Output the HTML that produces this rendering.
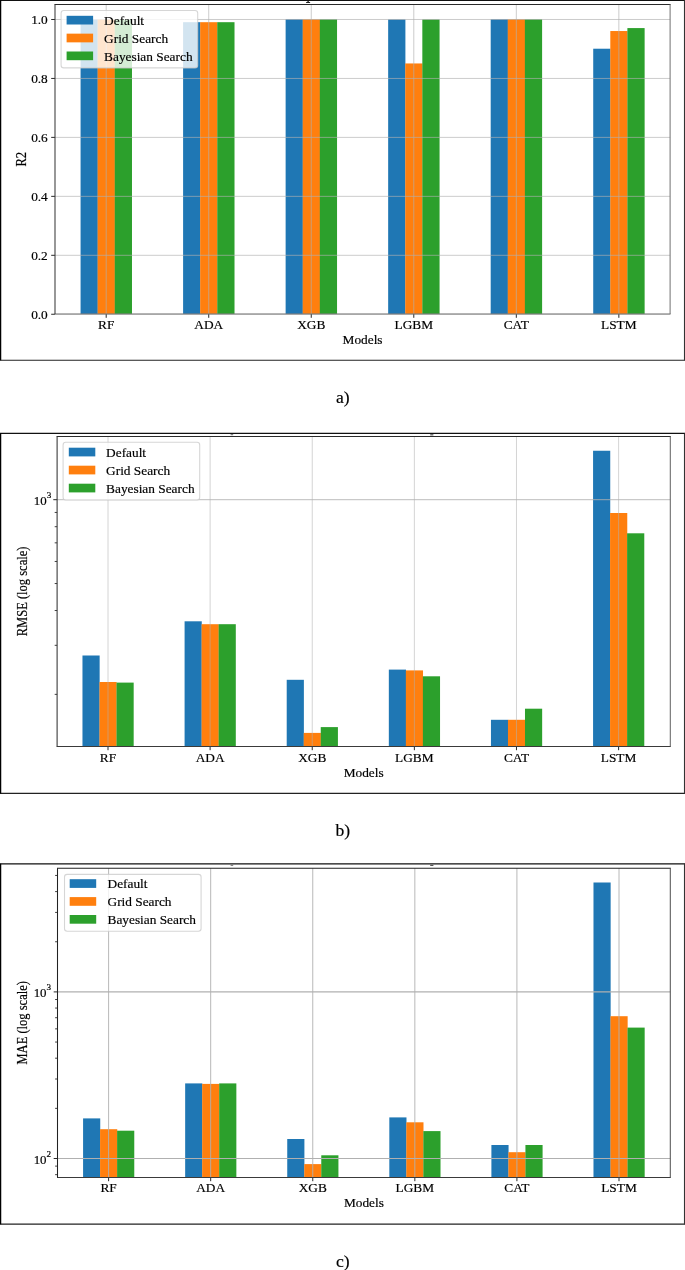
<!DOCTYPE html>
<html><head><meta charset="utf-8"><title>Figure</title>
<style>
html,body{margin:0;padding:0;background:#fff;}
body{width:685px;height:1270px;overflow:hidden;font-family:"Liberation Serif",serif;}
svg{display:block;will-change:transform;}
svg text{font-family:"Liberation Serif",serif;fill:#000;stroke:#000;stroke-width:0.18px;}
</style></head><body>
<svg width="685" height="1270" viewBox="0 0 685 1270">
<rect x="0" y="0" width="685" height="1270" fill="#fff"/>
<rect x="80.57" y="19.24" width="17.24" height="294.76" fill="#1f77b4"/>
<rect x="97.66" y="19.24" width="17.24" height="294.76" fill="#ff7f0e"/>
<rect x="114.74" y="19.24" width="17.24" height="294.76" fill="#2ca02c"/>
<rect x="183.1" y="22.19" width="17.24" height="291.81" fill="#1f77b4"/>
<rect x="200.19" y="22.19" width="17.24" height="291.81" fill="#ff7f0e"/>
<rect x="217.27" y="22.19" width="17.24" height="291.81" fill="#2ca02c"/>
<rect x="285.63" y="19.24" width="17.24" height="294.76" fill="#1f77b4"/>
<rect x="302.72" y="19.24" width="17.24" height="294.76" fill="#ff7f0e"/>
<rect x="319.8" y="19.24" width="17.24" height="294.76" fill="#2ca02c"/>
<rect x="388.16" y="19.39" width="17.24" height="294.61" fill="#1f77b4"/>
<rect x="405.25" y="63.45" width="17.24" height="250.55" fill="#ff7f0e"/>
<rect x="422.33" y="19.39" width="17.24" height="294.61" fill="#2ca02c"/>
<rect x="490.69" y="19.24" width="17.24" height="294.76" fill="#1f77b4"/>
<rect x="507.78" y="19.24" width="17.24" height="294.76" fill="#ff7f0e"/>
<rect x="524.86" y="19.24" width="17.24" height="294.76" fill="#2ca02c"/>
<rect x="593.22" y="48.72" width="17.24" height="265.28" fill="#1f77b4"/>
<rect x="610.31" y="31.03" width="17.24" height="282.97" fill="#ff7f0e"/>
<rect x="627.39" y="28.08" width="17.24" height="285.92" fill="#2ca02c"/>
<line x1="106.2" y1="4.5" x2="106.2" y2="314" stroke="#b0b0b0" stroke-width="0.65"/>
<line x1="208.73" y1="4.5" x2="208.73" y2="314" stroke="#b0b0b0" stroke-width="0.65"/>
<line x1="311.26" y1="4.5" x2="311.26" y2="314" stroke="#b0b0b0" stroke-width="0.65"/>
<line x1="413.79" y1="4.5" x2="413.79" y2="314" stroke="#b0b0b0" stroke-width="0.65"/>
<line x1="516.32" y1="4.5" x2="516.32" y2="314" stroke="#b0b0b0" stroke-width="0.65"/>
<line x1="618.85" y1="4.5" x2="618.85" y2="314" stroke="#b0b0b0" stroke-width="0.65"/>
<line x1="55" y1="314.25" x2="670.1" y2="314.25" stroke="#b0b0b0" stroke-width="0.65"/>
<line x1="55" y1="255.3" x2="670.1" y2="255.3" stroke="#b0b0b0" stroke-width="0.65"/>
<line x1="55" y1="196.35" x2="670.1" y2="196.35" stroke="#b0b0b0" stroke-width="0.65"/>
<line x1="55" y1="137.39" x2="670.1" y2="137.39" stroke="#b0b0b0" stroke-width="0.65"/>
<line x1="55" y1="78.44" x2="670.1" y2="78.44" stroke="#b0b0b0" stroke-width="0.65"/>
<line x1="55" y1="19.49" x2="670.1" y2="19.49" stroke="#b0b0b0" stroke-width="0.65"/>
<line x1="106.2" y1="314" x2="106.2" y2="317.8" stroke="#111" stroke-width="0.9"/>
<line x1="208.73" y1="314" x2="208.73" y2="317.8" stroke="#111" stroke-width="0.9"/>
<line x1="311.26" y1="314" x2="311.26" y2="317.8" stroke="#111" stroke-width="0.9"/>
<line x1="413.79" y1="314" x2="413.79" y2="317.8" stroke="#111" stroke-width="0.9"/>
<line x1="516.32" y1="314" x2="516.32" y2="317.8" stroke="#111" stroke-width="0.9"/>
<line x1="618.85" y1="314" x2="618.85" y2="317.8" stroke="#111" stroke-width="0.9"/>
<line x1="51.2" y1="314.25" x2="55" y2="314.25" stroke="#111" stroke-width="0.9"/>
<line x1="51.2" y1="255.3" x2="55" y2="255.3" stroke="#111" stroke-width="0.9"/>
<line x1="51.2" y1="196.35" x2="55" y2="196.35" stroke="#111" stroke-width="0.9"/>
<line x1="51.2" y1="137.39" x2="55" y2="137.39" stroke="#111" stroke-width="0.9"/>
<line x1="51.2" y1="78.44" x2="55" y2="78.44" stroke="#111" stroke-width="0.9"/>
<line x1="51.2" y1="19.49" x2="55" y2="19.49" stroke="#111" stroke-width="0.9"/>
<line x1="54.5" y1="4.5" x2="670.6" y2="4.5" stroke="#2a2a2a" stroke-width="1.05"/>
<line x1="54.5" y1="314" x2="670.6" y2="314" stroke="#777" stroke-width="1.05"/>
<line x1="55" y1="4.5" x2="55" y2="314" stroke="#3a3a3a" stroke-width="1.05"/>
<line x1="670.1" y1="4.5" x2="670.1" y2="314" stroke="#777" stroke-width="1.05"/>
<text x="47.8" y="318.75" text-anchor="end" font-size="13.33">0.0</text>
<text x="47.8" y="259.8" text-anchor="end" font-size="13.33">0.2</text>
<text x="47.8" y="200.85" text-anchor="end" font-size="13.33">0.4</text>
<text x="47.8" y="141.89" text-anchor="end" font-size="13.33">0.6</text>
<text x="47.8" y="82.94" text-anchor="end" font-size="13.33">0.8</text>
<text x="47.8" y="23.99" text-anchor="end" font-size="13.33">1.0</text>
<text x="106.2" y="329.2" text-anchor="middle" font-size="13.33">RF</text>
<text x="208.73" y="329.2" text-anchor="middle" font-size="13.33">ADA</text>
<text x="311.26" y="329.2" text-anchor="middle" font-size="13.33">XGB</text>
<text x="413.79" y="329.2" text-anchor="middle" font-size="13.33">LGBM</text>
<text x="516.32" y="329.2" text-anchor="middle" font-size="13.33">CAT</text>
<text x="618.85" y="329.2" text-anchor="middle" font-size="13.33">LSTM</text>
<text x="362.55" y="343.8" text-anchor="middle" font-size="13.33">Models</text>
<text transform="translate(26,159.25) scale(1.08,0.94) rotate(-90)" text-anchor="middle" font-size="13.33">R2</text>
<rect x="61.1" y="10.5" width="136.6" height="57.4" rx="2.7" ry="2.7" fill="#fff" fill-opacity="0.8" stroke="#ccc" stroke-opacity="0.8" stroke-width="1.07"/>
<rect x="66.6" y="15.8" width="26.5" height="8.7" fill="#1f77b4"/>
<text x="104.1" y="24.8" font-size="13.33">Default</text>
<rect x="66.6" y="33.65" width="26.5" height="8.7" fill="#ff7f0e"/>
<text x="104.1" y="42.65" font-size="13.33">Grid Search</text>
<rect x="66.6" y="51.5" width="26.5" height="8.7" fill="#2ca02c"/>
<text x="104.1" y="60.5" font-size="13.33">Bayesian Search</text>
<line x1="0" y1="0.3" x2="685" y2="0.3" stroke="#111" stroke-width="1.2"/>
<line x1="0" y1="360.25" x2="685" y2="360.25" stroke="#222" stroke-width="1.2"/>
<line x1="0.6" y1="0.3" x2="0.6" y2="360.25" stroke="#000" stroke-width="1.3"/>
<line x1="684.5" y1="0.3" x2="684.5" y2="360.25" stroke="#333" stroke-width="1.1"/>
<rect x="82.47" y="655.5" width="17.17" height="90.9" fill="#1f77b4"/>
<rect x="99.49" y="682" width="17.17" height="64.4" fill="#ff7f0e"/>
<rect x="116.51" y="682.6" width="17.17" height="63.8" fill="#2ca02c"/>
<rect x="184.59" y="621.3" width="17.17" height="125.1" fill="#1f77b4"/>
<rect x="201.61" y="624.2" width="17.17" height="122.2" fill="#ff7f0e"/>
<rect x="218.63" y="624.2" width="17.17" height="122.2" fill="#2ca02c"/>
<rect x="286.71" y="679.8" width="17.17" height="66.6" fill="#1f77b4"/>
<rect x="303.73" y="732.9" width="17.17" height="13.5" fill="#ff7f0e"/>
<rect x="320.75" y="727.1" width="17.17" height="19.3" fill="#2ca02c"/>
<rect x="388.83" y="669.6" width="17.17" height="76.8" fill="#1f77b4"/>
<rect x="405.85" y="670.4" width="17.17" height="76" fill="#ff7f0e"/>
<rect x="422.87" y="676.3" width="17.17" height="70.1" fill="#2ca02c"/>
<rect x="490.95" y="719.8" width="17.17" height="26.6" fill="#1f77b4"/>
<rect x="507.97" y="719.8" width="17.17" height="26.6" fill="#ff7f0e"/>
<rect x="524.99" y="708.7" width="17.17" height="37.7" fill="#2ca02c"/>
<rect x="593.07" y="450.75" width="17.17" height="295.65" fill="#1f77b4"/>
<rect x="610.09" y="513" width="17.17" height="233.4" fill="#ff7f0e"/>
<rect x="627.11" y="533.3" width="17.17" height="213.1" fill="#2ca02c"/>
<line x1="108" y1="436.5" x2="108" y2="746.4" stroke="#b0b0b0" stroke-width="0.55"/>
<line x1="210.12" y1="436.5" x2="210.12" y2="746.4" stroke="#b0b0b0" stroke-width="0.55"/>
<line x1="312.24" y1="436.5" x2="312.24" y2="746.4" stroke="#b0b0b0" stroke-width="0.55"/>
<line x1="414.36" y1="436.5" x2="414.36" y2="746.4" stroke="#b0b0b0" stroke-width="0.55"/>
<line x1="516.48" y1="436.5" x2="516.48" y2="746.4" stroke="#b0b0b0" stroke-width="0.55"/>
<line x1="618.6" y1="436.5" x2="618.6" y2="746.4" stroke="#b0b0b0" stroke-width="0.55"/>
<line x1="57.1" y1="499.7" x2="670.3" y2="499.7" stroke="#b0b0b0" stroke-width="0.85"/>
<line x1="108" y1="746.4" x2="108" y2="750.2" stroke="#111" stroke-width="0.9"/>
<line x1="210.12" y1="746.4" x2="210.12" y2="750.2" stroke="#111" stroke-width="0.9"/>
<line x1="312.24" y1="746.4" x2="312.24" y2="750.2" stroke="#111" stroke-width="0.9"/>
<line x1="414.36" y1="746.4" x2="414.36" y2="750.2" stroke="#111" stroke-width="0.9"/>
<line x1="516.48" y1="746.4" x2="516.48" y2="750.2" stroke="#111" stroke-width="0.9"/>
<line x1="618.6" y1="746.4" x2="618.6" y2="750.2" stroke="#111" stroke-width="0.9"/>
<line x1="53.3" y1="499.7" x2="57.1" y2="499.7" stroke="#111" stroke-width="0.9"/>
<line x1="54.7" y1="694.36" x2="57.1" y2="694.36" stroke="#111" stroke-width="0.8"/>
<line x1="54.7" y1="645.32" x2="57.1" y2="645.32" stroke="#111" stroke-width="0.8"/>
<line x1="54.7" y1="610.53" x2="57.1" y2="610.53" stroke="#111" stroke-width="0.8"/>
<line x1="54.7" y1="583.54" x2="57.1" y2="583.54" stroke="#111" stroke-width="0.8"/>
<line x1="54.7" y1="561.48" x2="57.1" y2="561.48" stroke="#111" stroke-width="0.8"/>
<line x1="54.7" y1="542.84" x2="57.1" y2="542.84" stroke="#111" stroke-width="0.8"/>
<line x1="54.7" y1="526.69" x2="57.1" y2="526.69" stroke="#111" stroke-width="0.8"/>
<line x1="54.7" y1="512.44" x2="57.1" y2="512.44" stroke="#111" stroke-width="0.8"/>
<line x1="56.6" y1="436.5" x2="670.8" y2="436.5" stroke="#2a2a2a" stroke-width="1.05"/>
<line x1="56.6" y1="746.4" x2="670.8" y2="746.4" stroke="#3a3a3a" stroke-width="1.05"/>
<line x1="57.1" y1="436.5" x2="57.1" y2="746.4" stroke="#333" stroke-width="1.05"/>
<line x1="670.3" y1="436.5" x2="670.3" y2="746.4" stroke="#666" stroke-width="1.05"/>
<text x="51.2" y="504.9" text-anchor="end" font-size="12.9">10<tspan font-size="9.1" dy="-6.7" dx="0">3</tspan></text>
<text x="108" y="761.9" text-anchor="middle" font-size="13.33">RF</text>
<text x="210.12" y="761.9" text-anchor="middle" font-size="13.33">ADA</text>
<text x="312.24" y="761.9" text-anchor="middle" font-size="13.33">XGB</text>
<text x="414.36" y="761.9" text-anchor="middle" font-size="13.33">LGBM</text>
<text x="516.48" y="761.9" text-anchor="middle" font-size="13.33">CAT</text>
<text x="618.6" y="761.9" text-anchor="middle" font-size="13.33">LSTM</text>
<text x="363.7" y="776.5" text-anchor="middle" font-size="13.33">Models</text>
<text transform="translate(26.55,591.45) scale(1.08,0.94) rotate(-90)" text-anchor="middle" font-size="13.33">RMSE (log scale)</text>
<rect x="63.1" y="442.2" width="136.6" height="57.8" rx="2.7" ry="2.7" fill="#fff" fill-opacity="0.8" stroke="#ccc" stroke-opacity="0.8" stroke-width="1.07"/>
<rect x="68.8" y="447.7" width="26.5" height="8.7" fill="#1f77b4"/>
<text x="106.1" y="456.7" font-size="13.33">Default</text>
<rect x="68.8" y="465.7" width="26.5" height="8.7" fill="#ff7f0e"/>
<text x="106.1" y="474.7" font-size="13.33">Grid Search</text>
<rect x="68.8" y="483.7" width="26.5" height="8.7" fill="#2ca02c"/>
<text x="106.1" y="492.7" font-size="13.33">Bayesian Search</text>
<line x1="0" y1="433.4" x2="685" y2="433.4" stroke="#111" stroke-width="1.2"/>
<line x1="0" y1="793.4" x2="685" y2="793.4" stroke="#222" stroke-width="1.2"/>
<line x1="0.6" y1="433.4" x2="0.6" y2="793.4" stroke="#000" stroke-width="1.3"/>
<line x1="684.5" y1="433.4" x2="684.5" y2="793.4" stroke="#333" stroke-width="1.1"/>
<rect x="83.08" y="1118.4" width="17.16" height="59" fill="#1f77b4"/>
<rect x="100.09" y="1129.2" width="17.16" height="48.2" fill="#ff7f0e"/>
<rect x="117.11" y="1130.7" width="17.16" height="46.7" fill="#2ca02c"/>
<rect x="185.16" y="1083.4" width="17.16" height="94" fill="#1f77b4"/>
<rect x="202.17" y="1083.9" width="17.16" height="93.5" fill="#ff7f0e"/>
<rect x="219.19" y="1083.4" width="17.16" height="94" fill="#2ca02c"/>
<rect x="287.24" y="1139" width="17.16" height="38.4" fill="#1f77b4"/>
<rect x="304.25" y="1164.1" width="17.16" height="13.3" fill="#ff7f0e"/>
<rect x="321.27" y="1155.3" width="17.16" height="22.1" fill="#2ca02c"/>
<rect x="389.32" y="1117.4" width="17.16" height="60" fill="#1f77b4"/>
<rect x="406.33" y="1122.3" width="17.16" height="55.1" fill="#ff7f0e"/>
<rect x="423.35" y="1131.1" width="17.16" height="46.3" fill="#2ca02c"/>
<rect x="491.4" y="1145" width="17.16" height="32.4" fill="#1f77b4"/>
<rect x="508.41" y="1152.2" width="17.16" height="25.2" fill="#ff7f0e"/>
<rect x="525.43" y="1145" width="17.16" height="32.4" fill="#2ca02c"/>
<rect x="593.48" y="882.5" width="17.16" height="294.9" fill="#1f77b4"/>
<rect x="610.49" y="1016.2" width="17.16" height="161.2" fill="#ff7f0e"/>
<rect x="627.51" y="1027.6" width="17.16" height="149.8" fill="#2ca02c"/>
<line x1="108.6" y1="868.2" x2="108.6" y2="1177.4" stroke="#b0b0b0" stroke-width="0.9"/>
<line x1="210.68" y1="868.2" x2="210.68" y2="1177.4" stroke="#b0b0b0" stroke-width="0.9"/>
<line x1="312.76" y1="868.2" x2="312.76" y2="1177.4" stroke="#b0b0b0" stroke-width="0.9"/>
<line x1="414.84" y1="868.2" x2="414.84" y2="1177.4" stroke="#b0b0b0" stroke-width="0.9"/>
<line x1="516.92" y1="868.2" x2="516.92" y2="1177.4" stroke="#b0b0b0" stroke-width="0.9"/>
<line x1="619" y1="868.2" x2="619" y2="1177.4" stroke="#b0b0b0" stroke-width="0.9"/>
<line x1="57.5" y1="991.9" x2="670.3" y2="991.9" stroke="#b0b0b0" stroke-width="1.2"/>
<line x1="57.5" y1="1158.5" x2="670.3" y2="1158.5" stroke="#b0b0b0" stroke-width="1.2"/>
<line x1="108.6" y1="1177.4" x2="108.6" y2="1181.2" stroke="#111" stroke-width="0.9"/>
<line x1="210.68" y1="1177.4" x2="210.68" y2="1181.2" stroke="#111" stroke-width="0.9"/>
<line x1="312.76" y1="1177.4" x2="312.76" y2="1181.2" stroke="#111" stroke-width="0.9"/>
<line x1="414.84" y1="1177.4" x2="414.84" y2="1181.2" stroke="#111" stroke-width="0.9"/>
<line x1="516.92" y1="1177.4" x2="516.92" y2="1181.2" stroke="#111" stroke-width="0.9"/>
<line x1="619" y1="1177.4" x2="619" y2="1181.2" stroke="#111" stroke-width="0.9"/>
<line x1="53.7" y1="991.9" x2="57.5" y2="991.9" stroke="#111" stroke-width="0.9"/>
<line x1="53.7" y1="1158.5" x2="57.5" y2="1158.5" stroke="#111" stroke-width="0.9"/>
<line x1="55.1" y1="1174.65" x2="57.5" y2="1174.65" stroke="#111" stroke-width="0.8"/>
<line x1="55.1" y1="1166.12" x2="57.5" y2="1166.12" stroke="#111" stroke-width="0.8"/>
<line x1="55.1" y1="1108.35" x2="57.5" y2="1108.35" stroke="#111" stroke-width="0.8"/>
<line x1="55.1" y1="1079.01" x2="57.5" y2="1079.01" stroke="#111" stroke-width="0.8"/>
<line x1="55.1" y1="1058.2" x2="57.5" y2="1058.2" stroke="#111" stroke-width="0.8"/>
<line x1="55.1" y1="1042.05" x2="57.5" y2="1042.05" stroke="#111" stroke-width="0.8"/>
<line x1="55.1" y1="1028.86" x2="57.5" y2="1028.86" stroke="#111" stroke-width="0.8"/>
<line x1="55.1" y1="1017.71" x2="57.5" y2="1017.71" stroke="#111" stroke-width="0.8"/>
<line x1="55.1" y1="1008.05" x2="57.5" y2="1008.05" stroke="#111" stroke-width="0.8"/>
<line x1="55.1" y1="999.52" x2="57.5" y2="999.52" stroke="#111" stroke-width="0.8"/>
<line x1="55.1" y1="941.75" x2="57.5" y2="941.75" stroke="#111" stroke-width="0.8"/>
<line x1="55.1" y1="912.41" x2="57.5" y2="912.41" stroke="#111" stroke-width="0.8"/>
<line x1="55.1" y1="891.6" x2="57.5" y2="891.6" stroke="#111" stroke-width="0.8"/>
<line x1="55.1" y1="875.45" x2="57.5" y2="875.45" stroke="#111" stroke-width="0.8"/>
<line x1="57" y1="868.2" x2="670.8" y2="868.2" stroke="#222" stroke-width="1.05"/>
<line x1="57" y1="1177.4" x2="670.8" y2="1177.4" stroke="#3a3a3a" stroke-width="1.05"/>
<line x1="57.5" y1="868.2" x2="57.5" y2="1177.4" stroke="#222" stroke-width="1.05"/>
<line x1="670.3" y1="868.2" x2="670.3" y2="1177.4" stroke="#555" stroke-width="1.05"/>
<text x="51.1" y="997.1" text-anchor="end" font-size="12.9">10<tspan font-size="9.1" dy="-6.7" dx="0">3</tspan></text>
<text x="51.1" y="1163.7" text-anchor="end" font-size="12.9">10<tspan font-size="9.1" dy="-6.7" dx="0">2</tspan></text>
<text x="108.6" y="1192.3" text-anchor="middle" font-size="13.33">RF</text>
<text x="210.68" y="1192.3" text-anchor="middle" font-size="13.33">ADA</text>
<text x="312.76" y="1192.3" text-anchor="middle" font-size="13.33">XGB</text>
<text x="414.84" y="1192.3" text-anchor="middle" font-size="13.33">LGBM</text>
<text x="516.92" y="1192.3" text-anchor="middle" font-size="13.33">CAT</text>
<text x="619" y="1192.3" text-anchor="middle" font-size="13.33">LSTM</text>
<text x="363.9" y="1207" text-anchor="middle" font-size="13.33">Models</text>
<text transform="translate(26.55,1022.8) scale(1.08,0.94) rotate(-90)" text-anchor="middle" font-size="13.33">MAE (log scale)</text>
<rect x="64.5" y="874.4" width="136.6" height="56.8" rx="2.7" ry="2.7" fill="#fff" fill-opacity="0.8" stroke="#ccc" stroke-opacity="0.8" stroke-width="1.07"/>
<rect x="69.7" y="879.2" width="26.5" height="8.7" fill="#1f77b4"/>
<text x="107.5" y="888.2" font-size="13.33">Default</text>
<rect x="69.7" y="897.1" width="26.5" height="8.7" fill="#ff7f0e"/>
<text x="107.5" y="906.1" font-size="13.33">Grid Search</text>
<rect x="69.7" y="915" width="26.5" height="8.7" fill="#2ca02c"/>
<text x="107.5" y="924" font-size="13.33">Bayesian Search</text>
<line x1="0" y1="863.8" x2="685" y2="863.8" stroke="#111" stroke-width="1.2"/>
<line x1="0" y1="1224.2" x2="685" y2="1224.2" stroke="#222" stroke-width="1.2"/>
<line x1="0.6" y1="863.8" x2="0.6" y2="1224.2" stroke="#000" stroke-width="1.3"/>
<line x1="684.5" y1="863.8" x2="684.5" y2="1224.2" stroke="#333" stroke-width="1.1"/>
<path d="M307.4 0.8h1.4v1.3h1.3v0.8h-4v-0.8h1.3z" fill="#222"/>
<rect x="230.6" y="434.3" width="2.6" height="0.9" fill="#555"/>
<rect x="430.2" y="434.3" width="3.2" height="1.1" fill="#444"/>
<rect x="230.6" y="864.8" width="2.6" height="0.9" fill="#555"/>
<rect x="430.2" y="864.8" width="3.2" height="1.1" fill="#444"/>
<text x="342.8" y="402.9" text-anchor="middle" font-size="17.6">a)</text>
<text x="342.8" y="835.8" text-anchor="middle" font-size="17.6">b)</text>
<text x="342.8" y="1266.5" text-anchor="middle" font-size="17.6">c)</text>
</svg>
</body></html>
